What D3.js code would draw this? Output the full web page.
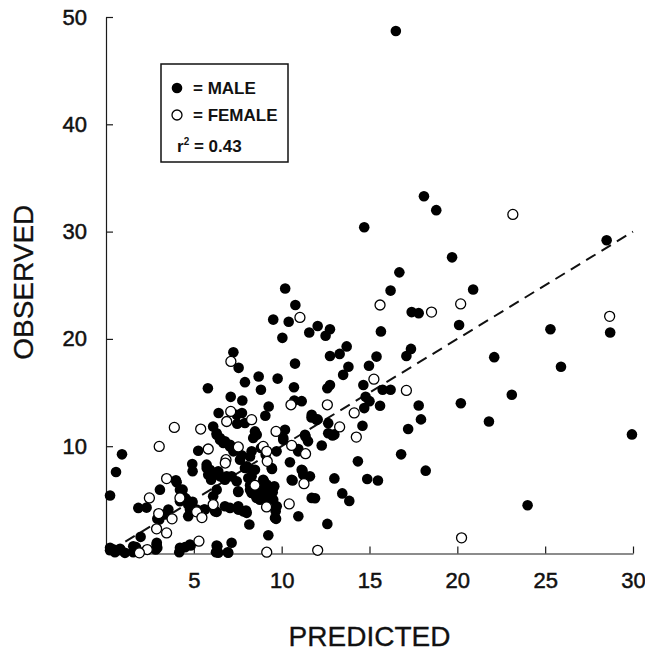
<!DOCTYPE html>
<html>
<head>
<meta charset="utf-8">
<title>Observed vs Predicted</title>
<script src="https://cdn.jsdelivr.net/npm/d3@7"></script>
<style>
  body { margin: 0; background: #fff; }
  svg { display: block; font-family: 'Liberation Sans', Arial, sans-serif; }
  .axis path, .axis line { stroke: #1a1a1a; stroke-width: 1.2; }
  .axis text { font-size: 22px; fill: #111; stroke: #111; stroke-width: 0.5; }
  .title { font-size: 28px; fill: #111; stroke: #111; stroke-width: 0.3; }
  .legend text { font-size: 17px; font-weight: bold; fill: #111; }
</style>
</head>
<body>
<svg class="scatterGraph"></svg>
<script>
const xTicks = [5, 10, 15, 20, 25, 30];
const yTicks = [10, 20, 30, 40, 50];
const xTitle = 'PREDICTED';
const yTitle = 'OBSERVED';

// [predicted, observed]
const male = [
  [16.5, 48.7], [18.1, 33.3], [18.8, 32.0], [14.7, 30.4], [28.5, 29.2], [19.7, 27.6], [16.7, 26.2],
  [16.2, 24.5], [20.9, 24.6], [10.2, 24.7],
  [17.4, 22.5], [17.8, 22.4], [25.3, 20.9], [28.7, 20.6], [20.1, 21.3], [12.05, 21.2], [12.75, 20.9],
  [12.5, 20.3], [15.65, 20.7], [22.1, 18.3], [25.9, 17.4], [12.75, 18.4], [13.3, 18.6], [13.7, 19.3],
  [15.4, 18.35], [17.36, 19.07], [17.1, 18.4], [13.8, 17.4], [13.5, 16.65], [14.97, 17.5], [12.6, 15.4],
  [12.75, 15.7], [14.65, 15.7], [15.75, 15.26], [16.2, 15.26], [14.78, 14.6], [15.0, 14.2], [14.7, 13.55],
  [15.6, 13.77], [17.8, 13.8], [20.2, 14.0], [23.1, 14.8], [17.93, 12.5], [21.8, 12.3], [12.05, 12.5],
  [12.65, 12.15], [12.65, 11.2], [12.9, 11.0], [13.0, 11.1], [14.6, 11.9], [17.2, 11.6], [29.94, 11.1],
  [12.28, 10.07], [16.8, 9.24], [14.34, 8.59], [18.2, 7.72], [13.0, 7.0], [14.87, 6.95], [15.48, 6.8],
  [13.45, 5.6], [13.85, 4.9], [11.9, 5.15], [24.0, 4.5], [12.6, 2.76],
  [10.78, 23.16], [9.52, 21.8], [10.4, 21.6], [11.57, 20.6], [10.04, 20.1], [10.76, 17.7], [7.25, 18.76],
  [7.55, 17.3], [8.69, 16.5], [9.77, 16.3], [7.91, 15.97], [5.8, 15.4], [10.7, 15.5], [8.82, 15.26],
  [7.1, 14.6], [7.76, 14.26], [10.72, 14.26], [11.14, 14.2], [9.26, 13.7], [9.07, 12.84], [6.41, 13.1],
  [7.44, 12.93], [7.74, 13.1], [7.47, 12.1], [7.91, 12.16], [11.7, 12.68], [11.99, 12.47], [11.71, 12.93],
  [6.1, 11.84], [6.3, 11.2], [6.3, 11.07], [8.48, 11.38], [8.58, 11.07], [10.19, 11.53], [6.49, 10.76],
  [6.68, 10.3], [7.06, 10.14], [6.49, 10.6], [6.77, 10.45], [7.06, 9.98], [8.38, 10.76], [10.09, 10.6],
  [10.09, 10.76], [11.36, 10.9], [11.33, 11.07], [11.5, 10.45], [5.25, 9.58], [0.91, 9.24], [7.25, 9.52],
  [7.72, 9.15], [9.09, 9.2], [8.82, 9.83], [9.71, 9.52], [8.29, 9.52], [8.2, 9.05], [10.95, 9.74],
  [10.94, 9.52], [10.47, 8.5], [4.91, 8.34], [0.57, 7.6], [5.73, 7.97], [5.73, 8.28], [5.82, 7.35],
  [6.39, 7.66], [8.01, 8.12], [7.63, 8.74], [7.91, 7.97], [8.29, 7.81], [8.48, 7.81], [9.45, 7.88],
  [9.43, 7.97], [11.19, 7.72], [11.14, 7.81], [11.23, 7.35], [11.61, 7.19], [4.93, 7.66], [5.92, 7.81],
  [6.2, 7.5], [6.49, 7.19], [6.77, 6.88], [5.98, 6.88], [6.87, 7.19], [7.15, 7.19], [7.44, 6.73],
  [8.1, 7.04], [8.29, 7.19], [8.95, 6.88], [9.15, 6.42], [9.33, 5.95], [9.52, 6.11], [10.57, 6.88],
  [4.02, 6.64], [3.98, 6.82], [4.36, 5.95], [4.21, 5.95], [3.07, 5.95], [8.2, 6.36], [8.99, 6.73],
  [9.58, 6.27], [10.62, 6.8], [6.3, 5.95], [6.1, 5.33], [7.53, 5.74], [7.53, 5.8], [8.29, 5.64],
  [8.2, 5.95], [8.48, 5.49], [8.76, 5.02], [8.86, 5.95], [8.57, 5.18], [8.95, 5.33], [9.15, 5.65],
  [9.07, 5.02], [9.52, 5.02], [9.49, 5.7], [9.72, 4.4], [11.71, 5.18], [0.23, 5.4], [1.84, 4.25],
  [2.31, 4.28], [3.55, 4.09], [4.21, 4.87], [4.59, 5.02], [4.5, 5.18], [4.68, 4.56], [4.93, 4.81],
  [4.78, 4.09], [5.16, 4.09], [5.58, 4.09], [5.63, 4.09], [6.2, 3.93], [4.68, 3.47], [3.36, 3.63],
  [3.03, 3.16], [6.3, 3.88], [6.77, 4.4], [7.06, 4.25], [7.53, 4.4], [7.53, 4.09], [7.81, 3.93],
  [7.97, 4.0], [8.01, 3.79], [10.95, 3.47], [9.66, 3.93], [9.68, 3.23], [9.62, 3.32], [2.92, 3.23],
  [8.16, 2.7], [9.24, 1.7], [1.97, 1.55], [2.88, 0.84], [2.89, 1.0], [2.92, 0.53], [7.15, 1.0],
  [4.82, 0.74], [4.78, 0.84], [4.5, 0.59], [4.21, 0.53], [4.17, 0.12], [6.34, 0.68], [6.3, 0.74],
  [6.26, 0.12], [6.39, 0.07], [6.93, 0.12], [6.96, 0.07], [2.83, 0.37], [1.71, 0.59], [1.55, 0.12],
  [1.55, 0.68], [1.75, 0.37], [0.23, 0.31], [0.23, 0.53], [0.51, 0.12], [0.84, 0.31], [0.8, 0.44],
  [1.08, 0.06], [0.4, 0.4]
];

const female = [
  [23.16, 31.6], [15.6, 23.16], [20.19, 23.26], [18.53, 22.5], [28.67, 22.1], [15.25, 16.25],
  [17.1, 15.2], [12.6, 13.86], [14.13, 13.1], [13.3, 11.8], [14.25, 10.85], [20.24, 1.46], [12.05, 0.3],
  [11.04, 22.0], [7.11, 17.9], [10.53, 13.86], [7.1, 13.24], [6.87, 12.3], [8.29, 12.47], [3.89, 11.75],
  [5.39, 11.6], [9.68, 11.38], [3.03, 9.98], [5.82, 9.74], [7.53, 9.93], [8.95, 9.98], [10.57, 10.07],
  [9.15, 9.52], [11.36, 9.3], [9.18, 8.59], [6.83, 8.74], [6.79, 8.43], [3.45, 6.98], [8.48, 6.36],
  [11.27, 6.51], [2.47, 5.18], [4.21, 5.18], [3.0, 3.72], [5.16, 3.88], [5.46, 3.35], [3.76, 3.23],
  [10.43, 4.62], [9.14, 4.34], [6.1, 4.56], [2.88, 2.3], [3.45, 1.92], [5.29, 1.15], [9.15, 0.12],
  [2.35, 0.37], [1.9, 0.06]
];

// regression line y = slope * x + intercept
const fitSlope = 1.0;
const fitIntercept = 0.0;
const fitRange = [1.1, 30];
const rSquared = '0.43';
const legendLabels = ['= MALE', '= FEMALE'];

const app = (function () {
  'use strict';

  function init () {
    const width = 645;
    const height = 658;
    const margin = { top: 17, right: 12, bottom: 104, left: 106 };
    const w = 633 - margin.left;
    const h = 553.5 - margin.top;

    const xScale = d3.scaleLinear().domain([0, 30]).range([0, w]);
    const yScale = d3.scaleLinear().domain([0, 50]).range([h, 0]);

    const svg = d3.select('.scatterGraph')
      .attr('width', width)
      .attr('height', height)
      .append('g')
      .attr('transform', 'translate(' + margin.left + ',' + margin.top + ')');

    const xAxis = d3.axisBottom(xScale)
      .tickValues(xTicks)
      .tickSizeInner(-7)
      .tickSizeOuter(0)
      .tickPadding(19);

    const yAxis = d3.axisLeft(yScale)
      .tickValues(yTicks)
      .tickSizeInner(-7)
      .tickSizeOuter(0)
      .tickPadding(19);

    svg.append('g')
      .attr('class', 'axis')
      .attr('transform', 'translate(0,' + h + ')')
      .call(xAxis);

    svg.append('g')
      .attr('class', 'axis')
      .call(yAxis);

    svg.selectAll('.axis text').attr('font-family', null).attr('font-size', null);

    // dashed fit line
    const line = d3.line()
      .x(function (d) { return xScale(d); })
      .y(function (d) { return yScale(fitSlope * d + fitIntercept); });

    svg.append('path')
      .datum(fitRange)
      .attr('d', line)
      .attr('fill', 'none')
      .attr('stroke', '#111')
      .attr('stroke-width', 2)
      .attr('stroke-dasharray', '11,7');

    svg.append('g')
      .selectAll('circle')
      .data(male)
      .enter()
      .append('circle')
      .attr('cx', function (d) { return xScale(d[0]); })
      .attr('cy', function (d) { return yScale(d[1]); })
      .attr('r', 5.3)
      .attr('fill', '#000');

    svg.append('g')
      .selectAll('circle')
      .data(female)
      .enter()
      .append('circle')
      .attr('cx', function (d) { return xScale(d[0]); })
      .attr('cy', function (d) { return yScale(d[1]); })
      .attr('r', 5)
      .attr('fill', '#fff')
      .attr('stroke', '#000')
      .attr('stroke-width', 1.3);

    // axis titles
    svg.append('text')
      .attr('class', 'title')
      .attr('transform', 'translate(' + (w / 2) + ',' + (h + 92) + ')')
      .style('text-anchor', 'middle')
      .text(xTitle);

    svg.append('text')
      .attr('class', 'title')
      .attr('transform', 'translate(' + (-73) + ',' + (h / 2 - 3) + ') rotate(-90)')
      .style('text-anchor', 'middle')
      .text(yTitle);

    // legend box
    const legend = d3.select('.scatterGraph')
      .append('g')
      .attr('class', 'legend')
      .attr('transform', 'translate(161,64)');

    legend.append('rect')
      .attr('width', 127)
      .attr('height', 98)
      .attr('fill', '#fff')
      .attr('stroke', '#111')
      .attr('stroke-width', 1.5);

    legend.append('circle')
      .attr('cx', 16)
      .attr('cy', 24)
      .attr('r', 5.3)
      .attr('fill', '#000');
    legend.append('text')
      .attr('x', 32)
      .attr('y', 30)
      .text(legendLabels[0]);

    legend.append('circle')
      .attr('cx', 16)
      .attr('cy', 51)
      .attr('r', 5)
      .attr('fill', '#fff')
      .attr('stroke', '#000')
      .attr('stroke-width', 1.3);
    legend.append('text')
      .attr('x', 32)
      .attr('y', 57)
      .text(legendLabels[1]);

    const rText = legend.append('text')
      .attr('x', 16)
      .attr('y', 88);
    rText.append('tspan').text('r');
    rText.append('tspan')
      .attr('dy', -7)
      .style('font-size', '10px')
      .text('2');
    rText.append('tspan')
      .attr('dy', 7)
      .text(' = ' + rSquared);
  }

  return {
    init: init
  };
}());

window.addEventListener('load', app.init);
</script>
</body>
</html>
